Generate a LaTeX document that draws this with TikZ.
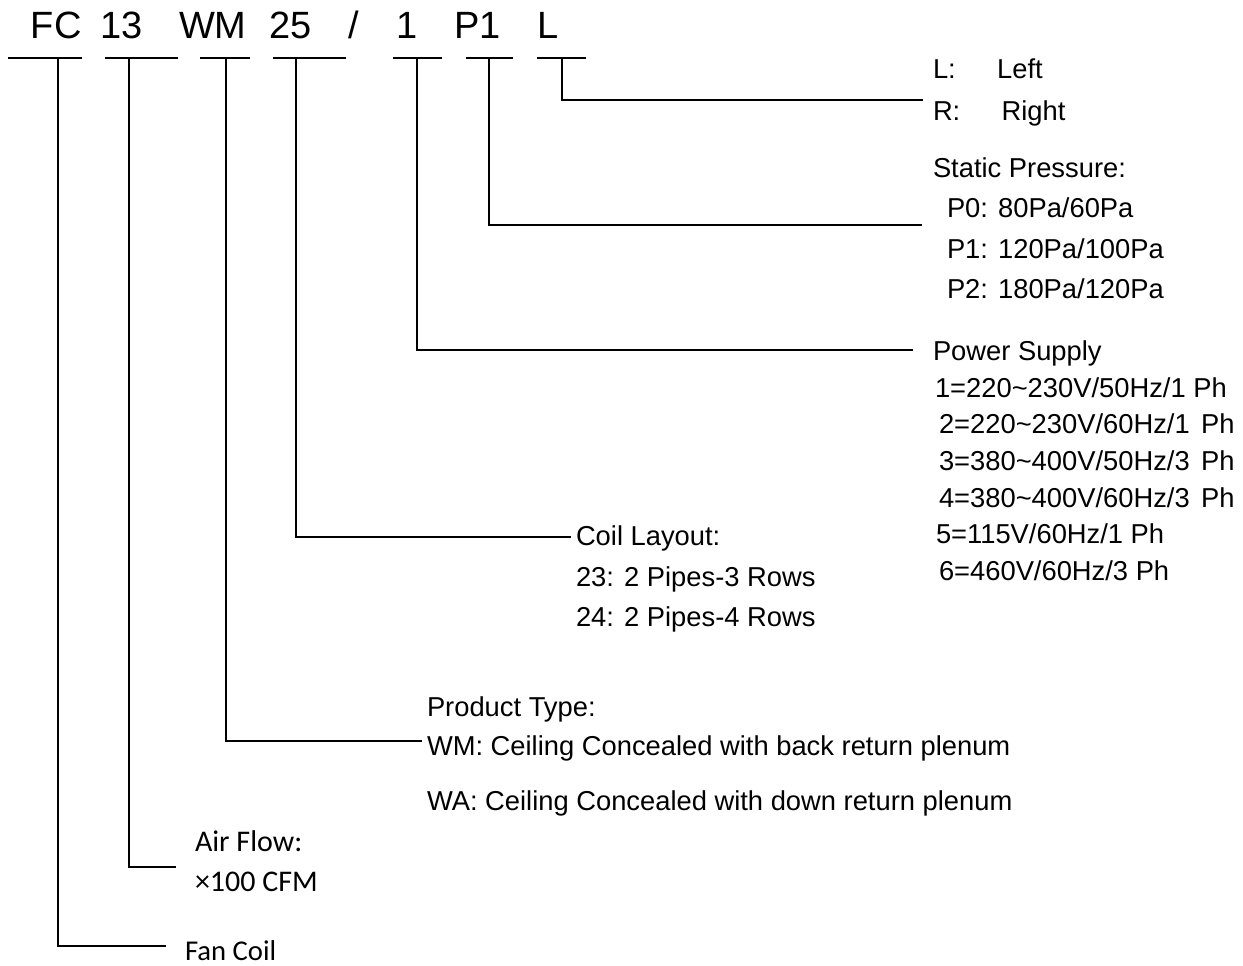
\documentclass[tikz,border=0pt]{standalone}
\usepackage{fontspec}
\setmainfont{Liberation Sans}
\newfontfamily\calib{Carlito}
\begin{document}
\begin{tikzpicture}[x=0.75pt,y=-0.75pt,
  code/.style={anchor=base west,inner sep=0,outer sep=0,font=\fontsize{28.5}{32}\selectfont},
  lbl/.style={anchor=base west,inner sep=0,outer sep=0,font=\fontsize{20.5}{24}\selectfont},
  clbl/.style={anchor=base west,inner sep=0,outer sep=0,font=\calib\fontsize{22.5}{26}\selectfont},
  bar/.style={line width=1.4pt},
  lead/.style={line width=1.4pt}]
\useasboundingbox (0,0) rectangle (1243,965);

% code
\node[code] (fc) at (31,38) {FC};
\node[code] (n13) at (100,38) {13};
\node[code] (wm) at (179,38) {WM};
\node[code] (n25) at (269,38) {25};
\node[code] (sl) at (348,38) {/};
\node[code] (one) at (396,38) {1};
\node[code] (p1) at (454,38) {P1};
\node[code] (ll) at (537,38) {L};

% bars
\coordinate (fcA) at (8,58);   \coordinate (fcB) at (82,58);   \coordinate (fcV) at (58,58);
\coordinate (tA) at (105,58);  \coordinate (tB) at (178,58);   \coordinate (tV) at (129,58);
\coordinate (wA) at (200,58);  \coordinate (wB) at (250,58);   \coordinate (wV) at (226,58);
\coordinate (cA) at (273,58);  \coordinate (cB) at (346,58);   \coordinate (cV) at (296,58);
\coordinate (oA) at (393,58);  \coordinate (oB) at (442,58);   \coordinate (oV) at (417,58);
\coordinate (pA) at (466,58);  \coordinate (pB) at (513,58);   \coordinate (pV) at (489,58);
\coordinate (lA) at (537,58);  \coordinate (lB) at (586,58);   \coordinate (lV) at (562,58);
\foreach \a/\b in {fcA/fcB,tA/tB,wA/wB,cA/cB,oA/oB,pA/pB,lA/lB}
  \draw[bar] (\a) -- (\b);

% lead ends
\coordinate (fcE) at (166,946);
\coordinate (tE) at (176,867);
\coordinate (wE) at (422,741);
\coordinate (cE) at (571,537);
\coordinate (oE) at (913,350);
\coordinate (pE) at (922,225);
\coordinate (lE) at (923,100);

\draw[lead] (fcV) |- (fcE);
\draw[lead] (tV) |- (tE);
\draw[lead] (wV) |- (wE);
\draw[lead] (cV) |- (cE);
\draw[lead] (oV) |- (oE);
\draw[lead] (pV) |- (pE);
\draw[lead] (lV) |- (lE);

% right labels
\node[lbl] (tL) at (933,78) {L:\hspace{31pt}Left};
\node[lbl] (tR) at (933,120) {R:\hspace{31pt}Right};
\node[lbl] (sp) at (933,177) {Static Pressure:};
\node[lbl] (sp0) at (947,217) {P0: 80Pa/60Pa};
\node[lbl] (sp1) at (947,258) {P1: 120Pa/100Pa};
\node[lbl] (sp2) at (947,298) {P2: 180Pa/120Pa};
\node[lbl] (ps) at (933,360) {Power Supply};
\node[lbl] (ps1) at (935,397) {1=220\textasciitilde230V/50Hz/1 Ph};
\node[lbl] (ps2) at (939,433) {2=220\textasciitilde230V/60Hz/1\hspace{8.5pt}Ph};
\node[lbl] (ps3) at (939,470) {3=380\textasciitilde400V/50Hz/3\hspace{8.5pt}Ph};
\node[lbl] (ps4) at (939,507) {4=380\textasciitilde400V/60Hz/3\hspace{8.5pt}Ph};
\node[lbl] (ps5) at (936,543) {5=115V/60Hz/1 Ph};
\node[lbl] (ps6) at (939,580) {6=460V/60Hz/3 Ph};

\node[lbl] (cl) at (576,545) {Coil Layout:};
\node[lbl] (cl1) at (576,586) {23: 2 Pipes-3 Rows};
\node[lbl] (cl2) at (576,626) {24: 2 Pipes-4 Rows};

\node[lbl] (pt) at (427,716) {Product Type:};
\node[lbl] (pt1) at (427,755) {WM: Ceiling Concealed with back return plenum};
\node[lbl] (pt2) at (427,810) {WA: Ceiling Concealed with down return plenum};

\node[clbl] (af) at (195,851) {Air Flow:};
\node[clbl] (af1) at (195,891) {×100 CFM};
\node[clbl,font=\calib\fontsize{21.5}{26}\selectfont] (fcl) at (185,960) {Fan Coil};
\end{tikzpicture}
\end{document}
